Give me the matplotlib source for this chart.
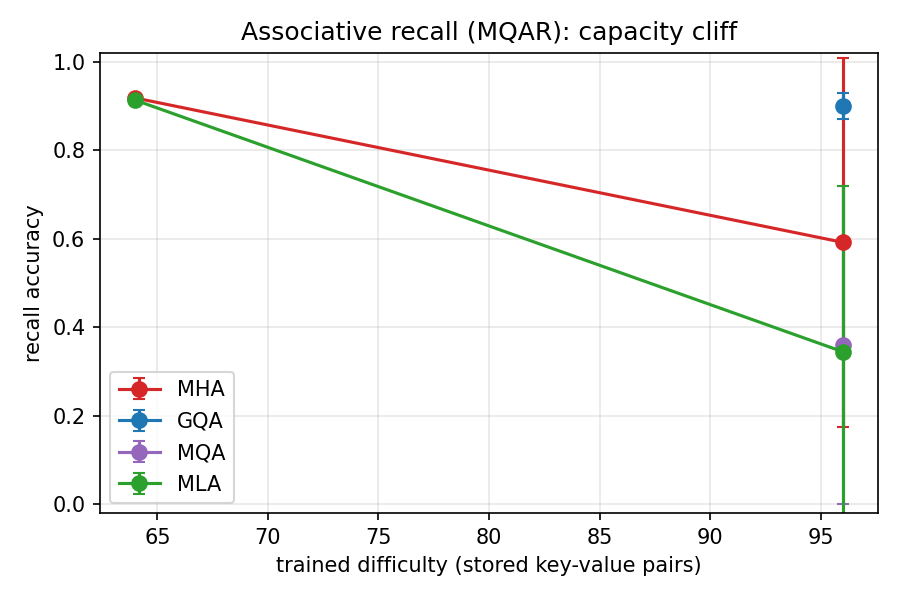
import matplotlib
matplotlib.use("Agg")
import matplotlib.pyplot as plt

# data
mha_x = [64, 96]
mha_y = [0.918, 0.592]
mha_err = [0.0, 0.417]

gqa_x = [96]
gqa_y = [0.900]
gqa_err = [0.030]

mqa_x = [96]
mqa_y = [0.360]
mqa_err = [0.360]

mla_x = [64, 96]
mla_y = [0.913, 0.345]
mla_err = [0.0, 0.375]

series = [
    ("MHA", mha_x, mha_y, mha_err, "tab:red"),
    ("GQA", gqa_x, gqa_y, gqa_err, "tab:blue"),
    ("MQA", mqa_x, mqa_y, mqa_err, "tab:purple"),
    ("MLA", mla_x, mla_y, mla_err, "tab:green"),
]

fig, ax = plt.subplots(figsize=(6, 4), dpi=150)
for name, x, y, err, c in series:
    ax.errorbar(x, y, yerr=err, marker="o", markersize=7, capsize=3, color=c, label=name)

ax.set_ylim(-0.02, 1.02)
ax.set_xlabel("trained difficulty (stored key-value pairs)")
ax.set_ylabel("recall accuracy")
ax.set_title("Associative recall (MQAR): capacity cliff")
ax.grid(alpha=0.3)
ax.legend(loc="lower left", labelspacing=0.55)
fig.subplots_adjust(left=0.111, right=0.9756, top=0.912, bottom=0.1445)
plt.savefig("out.png")
